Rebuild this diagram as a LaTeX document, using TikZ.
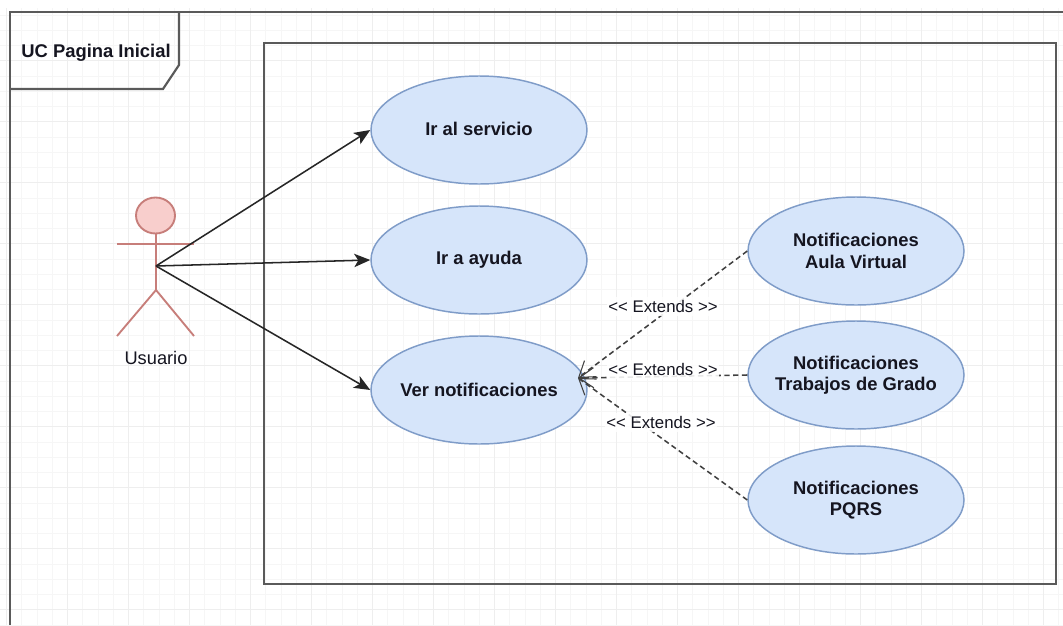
\documentclass[tikz,border=0pt]{standalone}
\usepackage{fontspec}
\setmainfont{Liberation Sans}
\usetikzlibrary{arrows.meta,shapes.geometric}
\definecolor{gridminor}{HTML}{F6F6F6}
\definecolor{gridmajor}{HTML}{EEEEEE}
\definecolor{frameln}{HTML}{5A5A5A}
\definecolor{ucfill}{HTML}{D6E5FA}
\definecolor{ucline}{HTML}{7F9CC8}
\definecolor{actfill}{HTML}{F8CECC}
\definecolor{actline}{HTML}{C77E7A}
\definecolor{txt}{HTML}{151520}
\tikzset{
  x=0.75pt,y=-0.75pt,
  usecase/.style={ellipse,draw=ucline,fill=ucfill,line width=1.1pt,minimum width=162pt,minimum height=81pt,inner xsep=-20pt,inner ysep=0pt,
     font=\bfseries\fontsize{13.8}{15.9}\selectfont,text=txt,align=center},
  framebox/.style={draw=frameln,line width=1.6pt,line join=miter},
  assoc/.style={draw=black!85,line width=1.15pt,-{Stealth[length=12pt,width=10pt,inset=3pt]}},
  extendsline/.style={draw=black!75,line width=1.15pt,dash pattern=on 4pt off 2.6pt,-{Straight Barb[length=11pt,width=15pt,line width=0.8pt]}},
  extlabel/.style={font=\fontsize{12.6}{14}\selectfont,text=txt,fill=white,fill opacity=0.88,text opacity=1,inner xsep=1pt,inner ysep=2.5pt},
  limb/.style={draw=actline,line width=1.4pt},
}
\begin{document}
\begin{tikzpicture}
\useasboundingbox (0,0) rectangle (1063,625);
\fill[white] (0,0) rectangle (1063,625);
% grid
\foreach \i in {0,...,70} {
  \draw[gridminor,line width=0.6pt] ({6.6+15.25*\i},8) -- ({6.6+15.25*\i},625);
}
\foreach \i in {0,...,40} {
  \draw[gridminor,line width=0.6pt] (0,{15+15.25*\i}) -- (1063,{15+15.25*\i});
}
\foreach \i in {0,...,17} {
  \draw[gridmajor,line width=0.7pt] ({6.6+61*\i},8) -- ({6.6+61*\i},625);
}
\foreach \i in {0,...,9} {
  \draw[gridmajor,line width=0.7pt] (0,{60+61*\i}) -- (1063,{60+61*\i});
}
% frames
\draw[framebox] (10,625) -- (10,12) -- (1063,12);
\draw[framebox] (10,89) -- (163,89) -- (179,65) -- (179,12);
\node[font=\bfseries\fontsize{13.8}{15.9}\selectfont,text=txt,anchor=center] (title) at (96,53) {UC Pagina Inicial};
\draw[framebox] (264,43) rectangle (1056,584);
% actor
\draw[limb,fill=actfill] (155.5,215.5) ellipse [x radius=19.5,y radius=18];
\node[inner sep=0pt,minimum size=0pt] (actor) at (156,266) {};
\coordinate (neck) at (156,233.5);
\coordinate (hip) at (156,290);
\coordinate (armL) at (117,244);
\coordinate (armR) at (194,244);
\coordinate (legL) at (117,336);
\coordinate (legR) at (194,336);
\draw[limb] (neck) -- (hip);
\draw[limb] (armL) -- (armR);
\draw[limb] (legL) -- (hip) -- (legR);
\node[font=\fontsize{13.7}{15.8}\selectfont,text=txt] (usuario) at (156,358) {Usuario};
% use cases
\node[usecase] (servicio) at (479,130) {\raisebox{1.2pt}{Ir al servicio}};
\node[usecase] (ayuda) at (479,260) {Ir a ayuda};
\node[usecase] (ver) at (479,390) {Ver notificaciones};
\node[usecase] (aula) at (856,251) {Notificaciones\\Aula Virtual};
\node[usecase] (trabajos) at (856,375) {Notificaciones\\Trabajos de Grado};
\node[usecase] (pqrs) at (856,500) {Notificaciones\\PQRS};
% connectors
\draw[assoc] (actor.center) -- (servicio.west);
\draw[assoc] (actor.center) -- (ayuda.west);
\draw[assoc] (actor.center) -- (ver.west);
\coordinate (tip) at (578,378);
\draw[extendsline] (aula.west) -- (tip);
\draw[extendsline] (trabajos.west) -- (tip);
\draw[extendsline] (pqrs.west) -- (tip);
\node[extlabel] (e1) at (663,306) {{<}{<} Extends {>}{>}};
\node[extlabel] (e2) at (663,369) {{<}{<} Extends {>}{>}};
\node[extlabel] (e3) at (661,422) {{<}{<} Extends {>}{>}};
\end{tikzpicture}
\end{document}
